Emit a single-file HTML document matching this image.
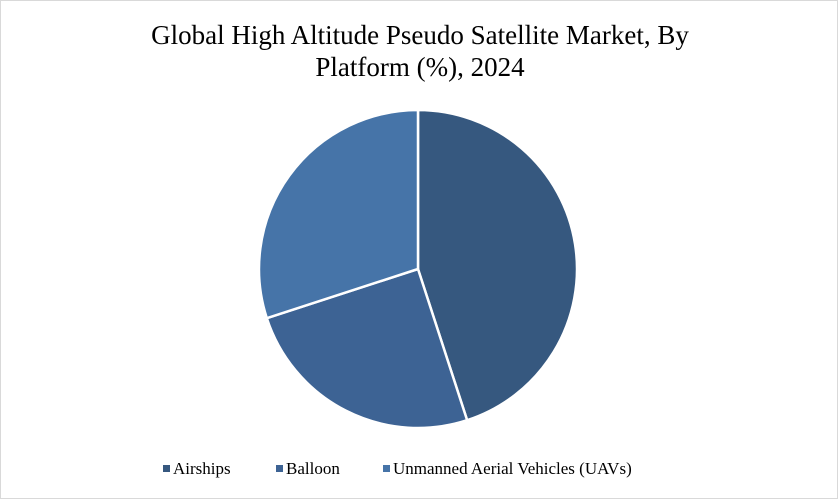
<!DOCTYPE html>
<html><head><meta charset="utf-8"><style>
body{margin:0;background:#fff;}
#wrap{position:relative;width:836px;height:497px;border:1px solid #d9d9d9;font-family:"Liberation Serif",serif;}
#title{position:absolute;top:18px;left:0;width:838px;text-align:center;font-size:27px;line-height:32px;color:#000;}
</style></head><body>
<div id="wrap">
<div id="title">Global High Altitude Pseudo Satellite Market, By<br>Platform (%), 2024</div>
<svg id="svg" width="838" height="499" style="position:absolute;left:-1px;top:-1px"></svg>
</div>
<script>
const categories=["Airships","Balloon","Unmanned Aerial Vehicles (UAVs)"];
const values=[45,25,30];
const colors=["#36587f","#3d6394","#4674a8"];
const svg=document.getElementById('svg');
const NS='http://www.w3.org/2000/svg';
const cx=418,cy=269,r=159;
const total=values.reduce((a,b)=>a+b,0);
let a0=0;
values.forEach((v,i)=>{
  const a1=a0+v/total*2*Math.PI;
  const p=(a)=>[cx+r*Math.sin(a),cy-r*Math.cos(a)];
  const [x0,y0]=p(a0),[x1,y1]=p(a1);
  const path=document.createElementNS(NS,'path');
  path.setAttribute('d',`M${cx},${cy}L${x0},${y0}A${r},${r} 0 ${a1-a0>Math.PI?1:0} 1 ${x1},${y1}Z`);
  path.setAttribute('fill',colors[i]);
  path.setAttribute('stroke','#fff');
  path.setAttribute('stroke-width','2.5');
  
  
  svg.appendChild(path);
  a0=a1;
});
const lx=[163,276,383];
categories.forEach((c,i)=>{
  const g=document.createElementNS(NS,'g');
  
  
  const rc=document.createElementNS(NS,'rect');
  rc.setAttribute('x',lx[i]);rc.setAttribute('y',465);rc.setAttribute('width',7);rc.setAttribute('height',7);
  rc.setAttribute('fill',colors[i]);
  g.appendChild(rc);
  const t=document.createElementNS(NS,'text');
  t.setAttribute('x',lx[i]+10);t.setAttribute('y',474);
  t.setAttribute('font-family','Liberation Serif, serif');t.setAttribute('font-size','17');
  t.textContent=c;
  g.appendChild(t);
  svg.appendChild(g);
});
</script>
</body></html>
